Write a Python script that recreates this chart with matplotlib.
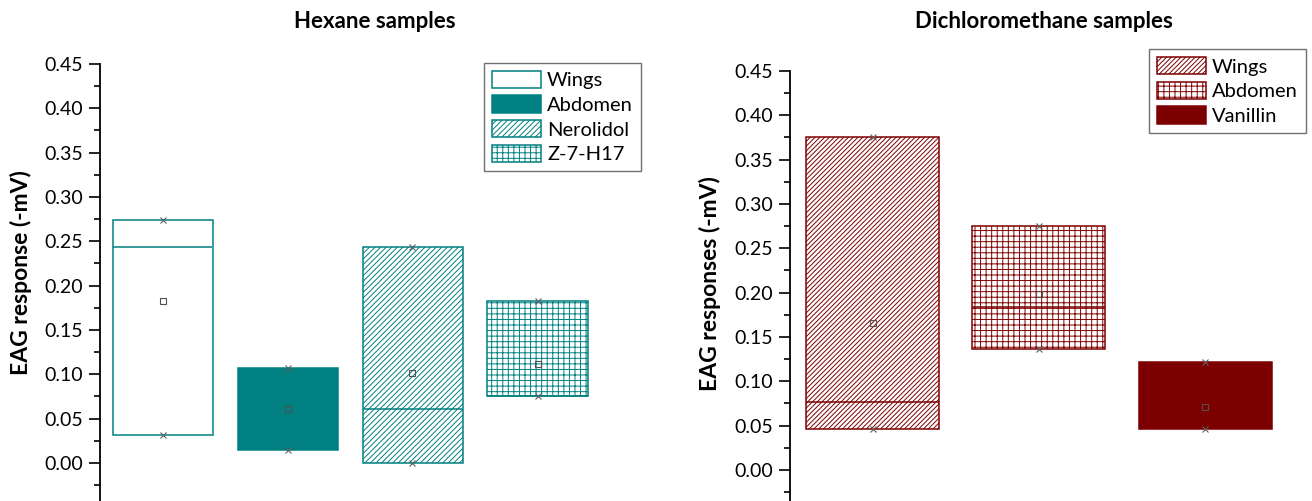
import matplotlib
matplotlib.use("Agg")
import matplotlib.pyplot as plt
from matplotlib.ticker import MultipleLocator, FormatStrFormatter

plt.rcParams['font.family'] = ['Lato', 'DejaVu Sans']
plt.rcParams['hatch.linewidth'] = 0.7

# ---------------- data ----------------
hex_labels = ['Wings', 'Abdomen', 'Nerolidol', 'Z-7-H17']
hex_min = [0.031, 0.015, 0.000, 0.076]
hex_max = [0.274, 0.107, 0.244, 0.183]
hex_median = [0.244, 0.061, 0.061, 0.076]
hex_mean = [0.183, 0.061, 0.101, 0.112]

dcm_labels = ['Wings', 'Abdomen', 'Vanillin']
dcm_min = [0.046, 0.137, 0.046]
dcm_max = [0.376, 0.275, 0.122]
dcm_median = [0.077, 0.184, 0.070]
dcm_mean = [0.166, 0.198, 0.071]

TEAL = '#008080'
RED = '#7d0000'

hex_styles = [dict(facecolor='white', hatch=None),
              dict(facecolor=TEAL, hatch=None),
              dict(facecolor='white', hatch='//////'),
              dict(facecolor='white', hatch='+++')]
dcm_styles = [dict(facecolor='white', hatch='///////'),
              dict(facecolor='white', hatch='+++'),
              dict(facecolor=RED, hatch=None)]

W, H = 1312, 501
fig = plt.figure(figsize=(W / 100, H / 100), dpi=100)


def px_axes(x0, x1, ytop, ybot):
    return fig.add_axes([x0 / W, 1 - ybot / H, (x1 - x0) / W, (ybot - ytop) / H])


def draw(ax, labels, mn, mx, med, mean, styles, color, xmax, ymin):
    xs = list(range(1, len(labels) + 1))
    for x, lo, hi, md, mu, lab, st in zip(xs, mn, mx, med, mean, labels, styles):
        ax.bar(x, hi - lo, bottom=lo, width=0.8, edgecolor=color, linewidth=1.1,
               label=lab, **st)
        ax.hlines(md, x - 0.4, x + 0.4, color=color, linewidth=1.1, zorder=3)
        ax.plot([x, x], [lo, hi], linestyle='none', marker='x', ms=5,
                mec='#606060', mew=0.8, zorder=4)
        ax.plot([x], [mu], linestyle='none', marker='s', ms=4, mfc='none',
                mec='#505050', mew=0.8, zorder=4)
    ax.set_xlim(0.5, xmax)
    ax.set_ylim(ymin, 0.45)
    for s in ['top', 'right', 'bottom']:
        ax.spines[s].set_visible(False)
    ax.spines['left'].set_linewidth(1.3)
    ax.set_xticks([])
    ax.yaxis.set_major_locator(MultipleLocator(0.05))
    ax.yaxis.set_minor_locator(MultipleLocator(0.025))
    ax.yaxis.set_major_formatter(FormatStrFormatter('%.2f'))
    ax.tick_params(axis='y', which='major', direction='out', length=8, width=1.2,
                   labelsize=14, pad=4)
    ax.tick_params(axis='y', which='minor', direction='out', length=4.5, width=1.2)
    ax.set_facecolor('none')


leg_kw = dict(bbox_transform=fig.transFigure, borderaxespad=0, fontsize=14.5,
              handlelength=2.45, handleheight=0.95, handletextpad=0.3,
              labelspacing=0.3, borderpad=0.4, fancybox=False,
              edgecolor='#707070', framealpha=1, loc='upper right')

# left panel
ax1 = px_axes(100, 641, 64, 501)
draw(ax1, hex_labels, hex_min, hex_max, hex_median, hex_mean, hex_styles, TEAL,
     4.828, -0.0429)
ax1.set_ylabel('EAG response (-mV)', fontsize=16.5, fontweight='bold')
ax1.yaxis.set_label_coords(-0.125, (501 - 273) / (501 - 64))
fig.text(375 / W, 1 - 22 / H, 'Hexane samples', ha='center', va='center',
         fontsize=16, fontweight='bold')
leg1 = ax1.legend(bbox_to_anchor=(641 / W, 1 - 62.7 / H), **leg_kw)
leg1.get_frame().set_linewidth(1.0)

# right panel
ax2 = px_axes(789.5, 1306, 71, 501)
draw(ax2, dcm_labels, dcm_min, dcm_max, dcm_median, dcm_mean, dcm_styles, RED,
     3.606, -0.035)
ax2.set_ylabel('EAG responses (-mV)', fontsize=16.5, fontweight='bold')
ax2.yaxis.set_label_coords(-0.132, (501 - 283.5) / (501 - 71))
fig.text(1044 / W, 1 - 22 / H, 'Dichloromethane samples', ha='center', va='center',
         fontsize=16, fontweight='bold')
leg2 = ax2.legend(bbox_to_anchor=(1306 / W, 1 - 49 / H), **leg_kw)
leg2.get_frame().set_linewidth(1.0)

fig.savefig('out.png', dpi=100)
